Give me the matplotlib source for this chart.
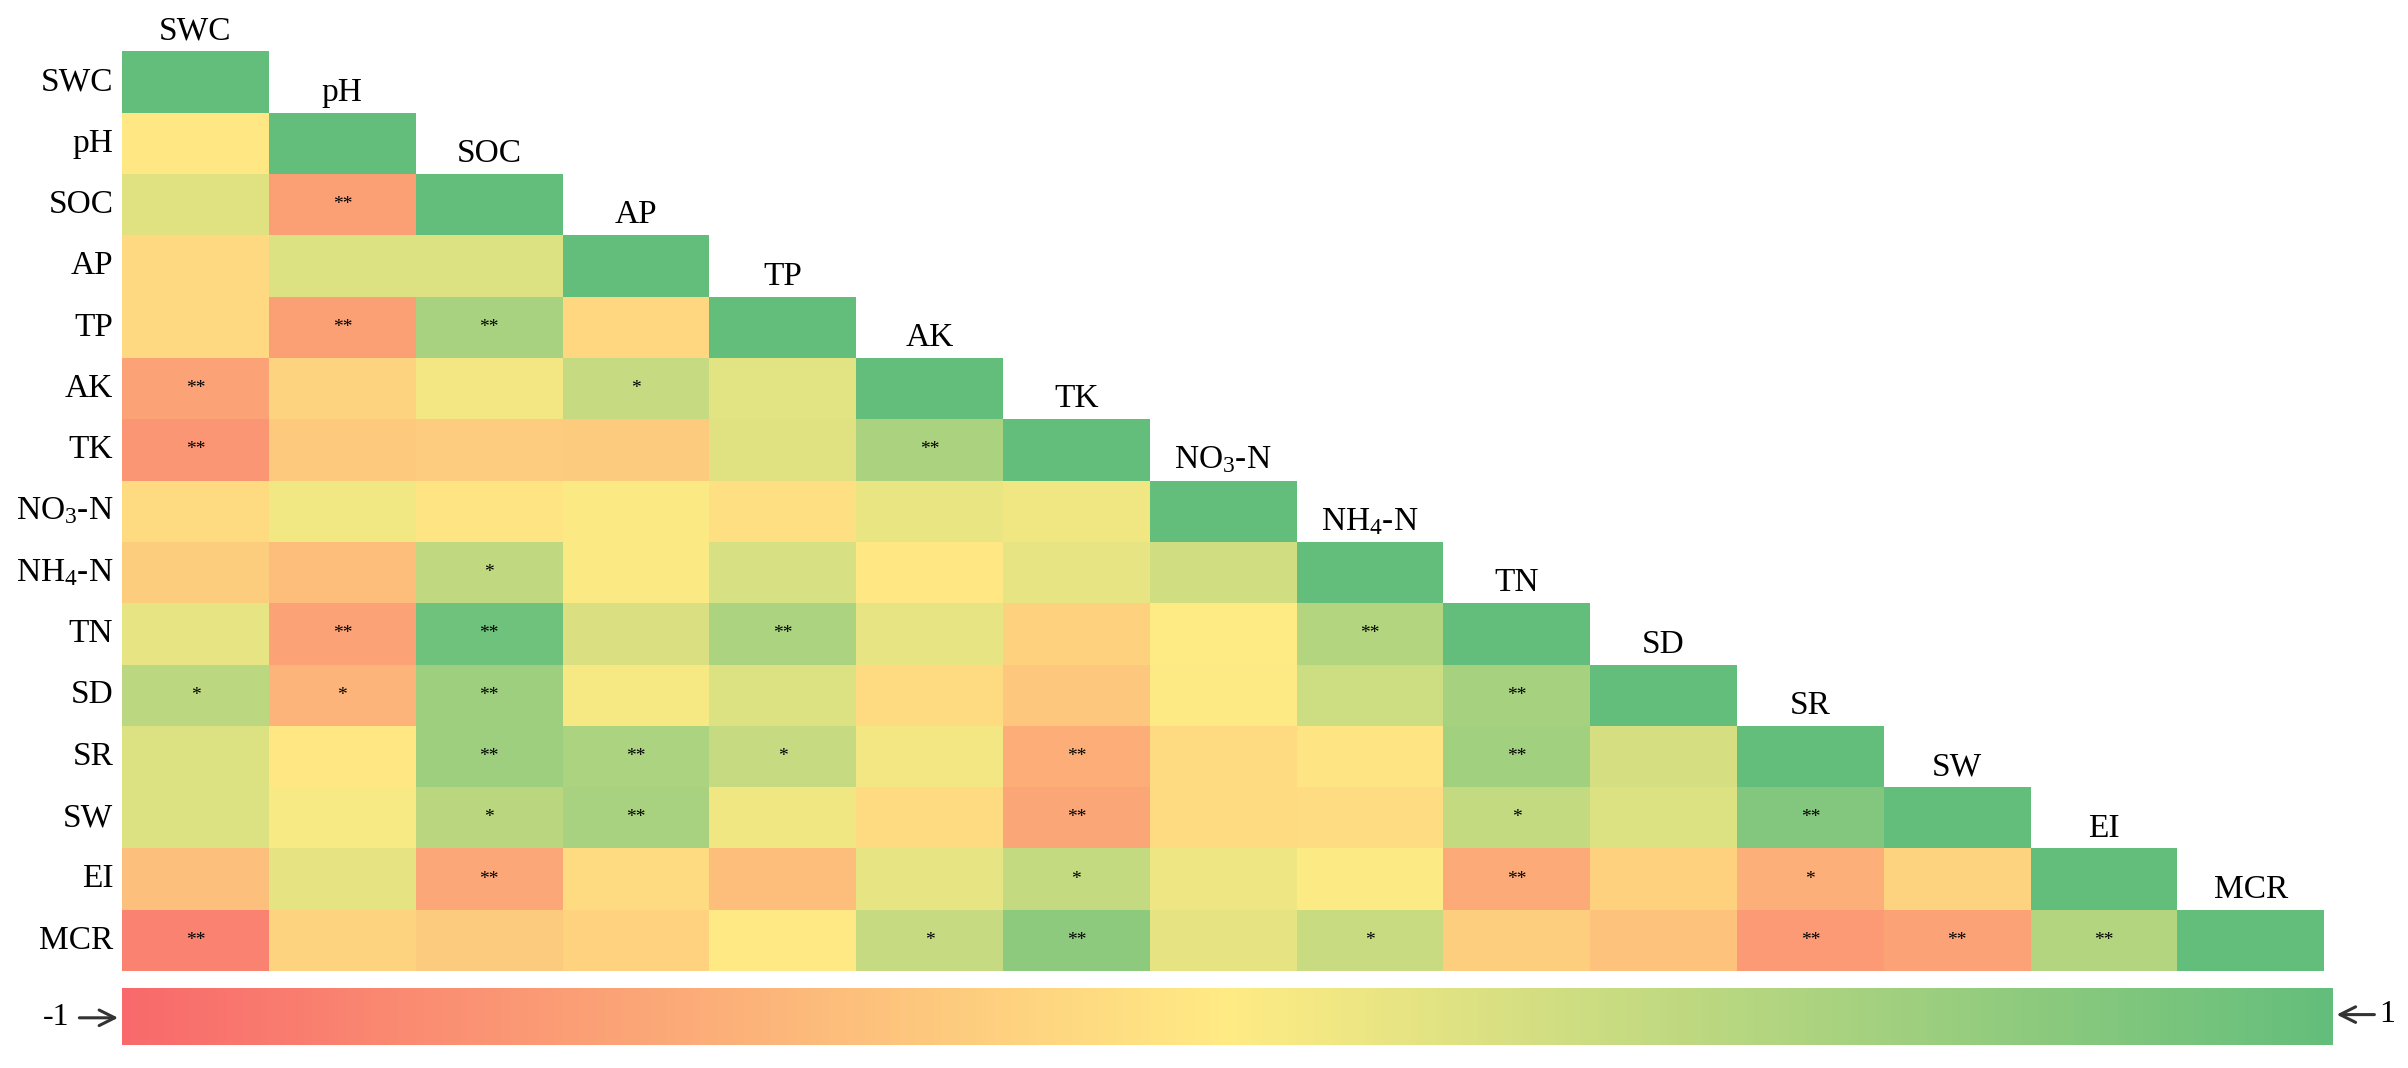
import numpy as np
import matplotlib.pyplot as plt
from matplotlib.colors import LinearSegmentedColormap
from matplotlib.patches import FancyArrowPatch

plt.rcParams['font.family'] = ['Liberation Serif', 'DejaVu Serif']
plt.rcParams['mathtext.fontset'] = 'custom'
plt.rcParams['mathtext.rm'] = 'Liberation Serif'

labels = ['SWC', 'pH', 'SOC', 'AP', 'TP', 'AK', 'TK', r'NO$\mathregular{_3}$-N',
          r'NH$\mathregular{_4}$-N', 'TN', 'SD', 'SR', 'SW', 'EI', 'MCR']

# lower triangle, row i holds correlations with columns 0..i-1
r_values = [
    [],
    [-0.03],
    [0.20, -0.58],
    [-0.14, 0.22, 0.22],
    [-0.14, -0.58, 0.56, -0.15],
    [-0.56, -0.18, 0.08, 0.37, 0.18],
    [-0.65, -0.26, -0.24, -0.25, 0.20, 0.54],
    [-0.12, 0.09, -0.05, 0.03, -0.08, 0.14, 0.10],
    [-0.23, -0.35, 0.40, 0.03, 0.25, -0.02, 0.16, 0.30],
    [0.15, -0.56, 0.92, 0.24, 0.53, 0.16, -0.20, 0.00, 0.49],
    [0.43, -0.42, 0.62, 0.06, 0.22, -0.12, -0.27, 0.01, 0.32, 0.57],
    [0.22, -0.02, 0.63, 0.53, 0.37, 0.08, -0.47, -0.12, -0.05, 0.60, 0.27],
    [0.22, 0.05, 0.44, 0.56, 0.10, -0.12, -0.53, -0.13, -0.11, 0.38, 0.22, 0.80],
    [-0.33, 0.17, -0.52, -0.12, -0.35, 0.15, 0.38, 0.11, 0.02, -0.50, -0.20, -0.46, -0.18],
    [-0.80, -0.18, -0.25, -0.19, -0.01, 0.37, 0.72, 0.17, 0.35, -0.22, -0.31, -0.62, -0.56, 0.49],
]

# significance marks, same layout
stars = [
    [],
    [''],
    ['', '**'],
    ['', '', ''],
    ['', '**', '**', ''],
    ['**', '', '', '*', ''],
    ['**', '', '', '', '', '**'],
    ['', '', '', '', '', '', ''],
    ['', '', '*', '', '', '', '', ''],
    ['', '**', '**', '', '**', '', '', '', '**'],
    ['*', '*', '**', '', '', '', '', '', '', '**'],
    ['', '', '**', '**', '*', '', '**', '', '', '**', ''],
    ['', '', '*', '**', '', '', '**', '', '', '*', '', '**'],
    ['', '', '**', '', '', '', '*', '', '', '**', '', '*', ''],
    ['**', '', '', '', '', '*', '**', '', '*', '', '', '**', '**', '**'],
]

n = len(labels)
mat = np.full((n, n), np.nan)
for i in range(n):
    mat[i, :i] = r_values[i]
    mat[i, i] = 1.0
mat = np.ma.masked_invalid(mat)

cmap = LinearSegmentedColormap.from_list('ryg', ['#F8696B', '#FFEB84', '#63BE7B'])

fig = plt.figure(figsize=(24.08, 10.68), dpi=100)
ax = fig.add_axes([0.0507, 0.0908, 0.9145, 0.861])
mesh = ax.pcolormesh(np.arange(n + 1), np.arange(n + 1), mat, cmap=cmap, vmin=-1, vmax=1)
ax.set_xlim(0, n)
ax.set_ylim(n, 0)
ax.axis('off')

for i in range(n):
    ax.text(-0.06, i + 0.5, labels[i], ha='right', va='center', fontsize=24)
    ax.text(i + 0.5, i - 0.08, labels[i], ha='center', va='bottom', fontsize=24)
    for j in range(i):
        if stars[i][j]:
            ax.text(j + 0.5, i + 0.5, stars[i][j], ha='center', va='center', fontsize=14)

# colour scale bar
cax = fig.add_axes([0.0507, 0.0215, 0.918, 0.0534])
cb = fig.colorbar(mesh, cax=cax, orientation='horizontal')
cb.set_ticks([])
cb.outline.set_visible(False)

ybar = 0.047
x0, x1 = 0.0507, 0.0507 + 0.918
fig.text(0.0290, ybar, '-1', ha='right', va='center', fontsize=23)
fig.patches.append(FancyArrowPatch((0.0318, ybar), (x0 - 0.0005, ybar),
                                   transform=fig.transFigure, arrowstyle='->',
                                   color='#333333', lw=2.2, mutation_scale=28))
fig.patches.append(FancyArrowPatch((x1 + 0.0185, ybar + 0.003), (x1 + 0.0005, ybar + 0.003),
                                   transform=fig.transFigure, arrowstyle='->',
                                   color='#333333', lw=2.2, mutation_scale=28))
fig.text(x1 + 0.0195, ybar + 0.003, '1', ha='left', va='center', fontsize=23)

fig.savefig('out.png', dpi=100)
